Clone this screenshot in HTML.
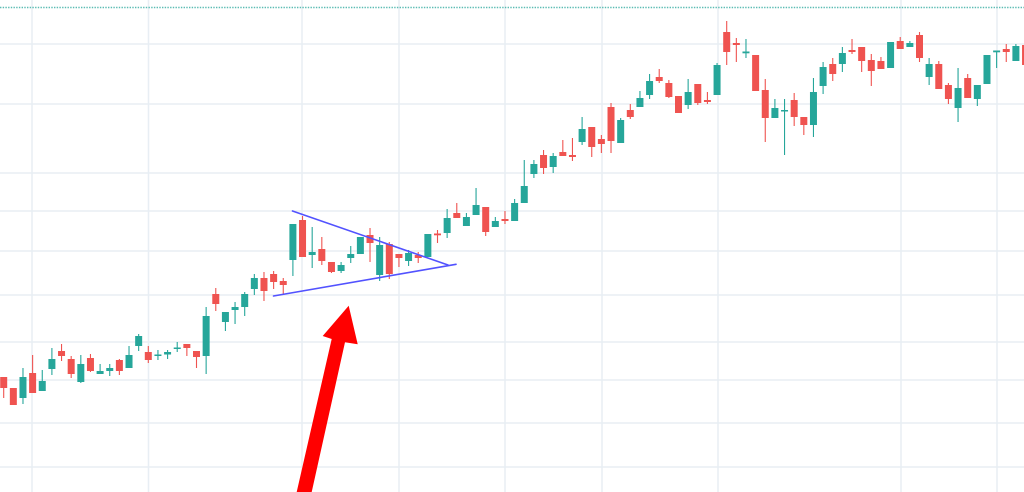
<!DOCTYPE html>
<html><head><meta charset="utf-8">
<style>
html,body{margin:0;padding:0;background:#fff;}
svg{display:block;}
.g path{stroke:#26a69a;stroke-width:1.1}
.g rect{fill:#26a69a}
.r path{stroke:#ef5350;stroke-width:1.1}
.r rect{fill:#ef5350}
</style></head>
<body>
<svg width="1024" height="492" viewBox="0 0 1024 492" xmlns="http://www.w3.org/2000/svg">
<rect width="1024" height="492" fill="#fff"/>
<g stroke="#e8eef4" stroke-width="1.5">
<line x1="0" y1="44" x2="1024" y2="44"/>
<line x1="0" y1="104" x2="1024" y2="104"/>
<line x1="0" y1="173" x2="1024" y2="173"/>
<line x1="0" y1="211" x2="1024" y2="211"/>
<line x1="0" y1="251" x2="1024" y2="251"/>
<line x1="0" y1="295" x2="1024" y2="295"/>
<line x1="0" y1="342" x2="1024" y2="342"/>
<line x1="0" y1="380" x2="1024" y2="380"/>
<line x1="0" y1="423" x2="1024" y2="423"/>
<line x1="0" y1="467" x2="1024" y2="467"/>
<line x1="32" y1="0" x2="32" y2="492"/>
<line x1="148.5" y1="0" x2="148.5" y2="492"/>
<line x1="302" y1="0" x2="302" y2="492"/>
<line x1="399" y1="0" x2="399" y2="492"/>
<line x1="505" y1="0" x2="505" y2="492"/>
<line x1="602" y1="0" x2="602" y2="492"/>
<line x1="718" y1="0" x2="718" y2="492"/>
<line x1="901" y1="0" x2="901" y2="492"/>
<line x1="997" y1="0" x2="997" y2="492"/>
</g>
<line x1="0" y1="7.5" x2="1024" y2="7.5" stroke="#26a69a" stroke-opacity="0.75" stroke-width="1.5" stroke-dasharray="1.4 1.3"/>

<g transform="translate(3.7 0)" class="r"><path d="M0 377V398"/><rect x="-3.5" y="377" width="7" height="11"/></g>
<g transform="translate(13.34 0)" class="r"><path d="M0 388V405"/><rect x="-3.5" y="388" width="7" height="17"/></g>
<g transform="translate(22.98 0)" class="g"><path d="M0 368V404"/><rect x="-3.5" y="377" width="7" height="21"/></g>
<g transform="translate(32.62 0)" class="r"><path d="M0 355V393"/><rect x="-3.5" y="373" width="7" height="20"/></g>
<g transform="translate(42.26 0)" class="g"><path d="M0 370V391"/><rect x="-3.5" y="381" width="7" height="10"/></g>
<g transform="translate(51.9 0)" class="g"><path d="M0 348V375"/><rect x="-3.5" y="359" width="7" height="10"/></g>
<g transform="translate(61.54 0)" class="r"><path d="M0 344V361"/><rect x="-3.5" y="351" width="7" height="5"/></g>
<g transform="translate(71.18 0)" class="r"><path d="M0 356V378"/><rect x="-3.5" y="359" width="7" height="15"/></g>
<g transform="translate(80.82 0)" class="g"><path d="M0 355V383"/><rect x="-3.5" y="364" width="7" height="18"/></g>
<g transform="translate(90.46 0)" class="r"><path d="M0 354V372"/><rect x="-3.5" y="358" width="7" height="13"/></g>
<g transform="translate(100.1 0)" class="g"><path d="M0 364V374"/><rect x="-3.5" y="371" width="7" height="3"/></g>
<g transform="translate(109.74 0)" class="g"><path d="M0 364V376"/><rect x="-3.5" y="368" width="7" height="3"/></g>
<g transform="translate(119.38 0)" class="r"><path d="M0 359V375"/><rect x="-3.5" y="360" width="7" height="11"/></g>
<g transform="translate(129.02 0)" class="g"><path d="M0 346V368"/><rect x="-3.5" y="355" width="7" height="13"/></g>
<g transform="translate(138.66 0)" class="g"><path d="M0 334V351"/><rect x="-3.5" y="336" width="7" height="10"/></g>
<g transform="translate(148.3 0)" class="r"><path d="M0 346V363"/><rect x="-3.5" y="352" width="7" height="8"/></g>
<g transform="translate(157.94 0)" class="g"><path d="M0 350V360"/><rect x="-3.5" y="354.5" width="7" height="1.5"/></g>
<g transform="translate(167.58 0)" class="g"><path d="M0 350V359"/><rect x="-3.5" y="352" width="7" height="2.5"/></g>
<g transform="translate(177.22 0)" class="g"><path d="M0 342V352"/><rect x="-3.5" y="347.5" width="7" height="1.5"/></g>
<g transform="translate(186.86 0)" class="r"><path d="M0 344V356"/><rect x="-3.5" y="344" width="7" height="4"/></g>
<g transform="translate(196.5 0)" class="r"><path d="M0 351V368"/><rect x="-3.5" y="351" width="7" height="6"/></g>
<g transform="translate(206.14 0)" class="g"><path d="M0 307V374"/><rect x="-3.5" y="316" width="7" height="40"/></g>
<g transform="translate(215.78 0)" class="r"><path d="M0 288V311"/><rect x="-3.5" y="294" width="7" height="10"/></g>
<g transform="translate(225.42 0)" class="g"><path d="M0 312V331"/><rect x="-3.5" y="312" width="7" height="10"/></g>
<g transform="translate(235.06 0)" class="g"><path d="M0 302V324"/><rect x="-3.5" y="307" width="7" height="3"/></g>
<g transform="translate(244.7 0)" class="g"><path d="M0 292V316"/><rect x="-3.5" y="294" width="7" height="13"/></g>
<g transform="translate(254.34 0)" class="g"><path d="M0 274V295"/><rect x="-3.5" y="278" width="7" height="11"/></g>
<g transform="translate(263.98 0)" class="r"><path d="M0 272V301"/><rect x="-3.5" y="278" width="7" height="13"/></g>
<g transform="translate(273.62 0)" class="r"><path d="M0 271V289"/><rect x="-3.5" y="274" width="7" height="8"/></g>
<g transform="translate(283.26 0)" class="r"><path d="M0 278V294"/><rect x="-3.5" y="281" width="7" height="4"/></g>
<g transform="translate(292.9 0)" class="g"><path d="M0 224V276"/><rect x="-3.5" y="224" width="7" height="36"/></g>
<g transform="translate(302.54 0)" class="r"><path d="M0 216V257"/><rect x="-3.5" y="220" width="7" height="37"/></g>
<g transform="translate(312.18 0)" class="g"><path d="M0 227V268"/><rect x="-3.5" y="252" width="7" height="3"/></g>
<g transform="translate(321.82 0)" class="r"><path d="M0 237V265"/><rect x="-3.5" y="249" width="7" height="12"/></g>
<g transform="translate(331.46 0)" class="r"><path d="M0 262V273"/><rect x="-3.5" y="262" width="7" height="10"/></g>
<g transform="translate(341.1 0)" class="g"><path d="M0 262V273"/><rect x="-3.5" y="265" width="7" height="6"/></g>
<g transform="translate(350.74 0)" class="g"><path d="M0 246V263"/><rect x="-3.5" y="254" width="7" height="4"/></g>
<g transform="translate(360.38 0)" class="g"><path d="M0 237V254"/><rect x="-3.5" y="237" width="7" height="17"/></g>
<g transform="translate(370.02 0)" class="r"><path d="M0 228V262"/><rect x="-3.5" y="235" width="7" height="8"/></g>
<g transform="translate(379.66 0)" class="g"><path d="M0 237V281"/><rect x="-3.5" y="245" width="7" height="30"/></g>
<g transform="translate(389.3 0)" class="r"><path d="M0 242V279"/><rect x="-3.5" y="244" width="7" height="30"/></g>
<g transform="translate(398.94 0)" class="r"><path d="M0 254V267"/><rect x="-3.5" y="254" width="7" height="4"/></g>
<g transform="translate(408.58 0)" class="g"><path d="M0 250V266"/><rect x="-3.5" y="253" width="7" height="8"/></g>
<g transform="translate(418.22 0)" class="r"><path d="M0 252V263"/><rect x="-3.5" y="255" width="7" height="3"/></g>
<g transform="translate(427.86 0)" class="g"><path d="M0 234V257"/><rect x="-3.5" y="234" width="7" height="23"/></g>
<g transform="translate(437.5 0)" class="r"><path d="M0 230V243"/><rect x="-3.5" y="233.5" width="7" height="1.8"/></g>
<g transform="translate(447.14 0)" class="g"><path d="M0 209V238"/><rect x="-3.5" y="218" width="7" height="15"/></g>
<g transform="translate(456.78 0)" class="r"><path d="M0 203V218"/><rect x="-3.5" y="213" width="7" height="5"/></g>
<g transform="translate(466.42 0)" class="g"><path d="M0 213V226"/><rect x="-3.5" y="217" width="7" height="9"/></g>
<g transform="translate(476.06 0)" class="g"><path d="M0 188V215"/><rect x="-3.5" y="205" width="7" height="10"/></g>
<g transform="translate(485.7 0)" class="r"><path d="M0 207V236"/><rect x="-3.5" y="207" width="7" height="25"/></g>
<g transform="translate(495.34 0)" class="g"><path d="M0 217V227"/><rect x="-3.5" y="221" width="7" height="6"/></g>
<g transform="translate(504.98 0)" class="r"><path d="M0 211V224"/><rect x="-3.5" y="219" width="7" height="2"/></g>
<g transform="translate(514.62 0)" class="g"><path d="M0 199V221"/><rect x="-3.5" y="203" width="7" height="18"/></g>
<g transform="translate(524.26 0)" class="g"><path d="M0 160V203"/><rect x="-3.5" y="186" width="7" height="17"/></g>
<g transform="translate(533.9 0)" class="g"><path d="M0 160V178"/><rect x="-3.5" y="164" width="7" height="10"/></g>
<g transform="translate(543.54 0)" class="r"><path d="M0 150V174"/><rect x="-3.5" y="155" width="7" height="13"/></g>
<g transform="translate(553.18 0)" class="g"><path d="M0 153V173"/><rect x="-3.5" y="156" width="7" height="11"/></g>
<g transform="translate(562.82 0)" class="r"><path d="M0 140V156"/><rect x="-3.5" y="152" width="7" height="4"/></g>
<g transform="translate(572.46 0)" class="r"><path d="M0 138V161"/><rect x="-3.5" y="155" width="7" height="2"/></g>
<g transform="translate(582.1 0)" class="g"><path d="M0 117V145"/><rect x="-3.5" y="129" width="7" height="13"/></g>
<g transform="translate(591.74 0)" class="r"><path d="M0 127V157"/><rect x="-3.5" y="127" width="7" height="20"/></g>
<g transform="translate(601.38 0)" class="r"><path d="M0 135V153"/><rect x="-3.5" y="139" width="7" height="5"/></g>
<g transform="translate(611.02 0)" class="r"><path d="M0 103V153"/><rect x="-3.5" y="107" width="7" height="34"/></g>
<g transform="translate(620.66 0)" class="g"><path d="M0 118V143"/><rect x="-3.5" y="120" width="7" height="23"/></g>
<g transform="translate(630.3 0)" class="r"><path d="M0 104V119"/><rect x="-3.5" y="110" width="7" height="7"/></g>
<g transform="translate(639.94 0)" class="g"><path d="M0 91V107"/><rect x="-3.5" y="98" width="7" height="9"/></g>
<g transform="translate(649.58 0)" class="g"><path d="M0 74V99"/><rect x="-3.5" y="81" width="7" height="14"/></g>
<g transform="translate(659.22 0)" class="r"><path d="M0 69V83"/><rect x="-3.5" y="77" width="7" height="4"/></g>
<g transform="translate(668.86 0)" class="r"><path d="M0 80V98"/><rect x="-3.5" y="83" width="7" height="14"/></g>
<g transform="translate(678.5 0)" class="r"><path d="M0 96V113"/><rect x="-3.5" y="96" width="7" height="17"/></g>
<g transform="translate(688.14 0)" class="g"><path d="M0 79V109"/><rect x="-3.5" y="92" width="7" height="13"/></g>
<g transform="translate(697.78 0)" class="r"><path d="M0 84V105"/><rect x="-3.5" y="84" width="7" height="19"/></g>
<g transform="translate(707.42 0)" class="r"><path d="M0 92V104"/><rect x="-3.5" y="100" width="7" height="2"/></g>
<g transform="translate(717.06 0)" class="g"><path d="M0 63V95"/><rect x="-3.5" y="65" width="7" height="30"/></g>
<g transform="translate(726.7 0)" class="r"><path d="M0 21V65"/><rect x="-3.5" y="32" width="7" height="20"/></g>
<g transform="translate(736.34 0)" class="r"><path d="M0 38V62"/><rect x="-3.5" y="43" width="7" height="2"/></g>
<g transform="translate(745.98 0)" class="g"><path d="M0 39V58"/><rect x="-3.5" y="51.5" width="7" height="1.8"/></g>
<g transform="translate(755.62 0)" class="r"><path d="M0 55V91"/><rect x="-3.5" y="55" width="7" height="36"/></g>
<g transform="translate(765.26 0)" class="r"><path d="M0 79V142"/><rect x="-3.5" y="90" width="7" height="28"/></g>
<g transform="translate(774.9 0)" class="g"><path d="M0 99V118"/><rect x="-3.5" y="108" width="7" height="10"/></g>
<g transform="translate(784.54 0)" class="g"><path d="M0 99V155"/><rect x="-3.5" y="110" width="7" height="1.5"/></g>
<g transform="translate(794.18 0)" class="r"><path d="M0 93V126"/><rect x="-3.5" y="100" width="7" height="17"/></g>
<g transform="translate(803.82 0)" class="r"><path d="M0 117V135"/><rect x="-3.5" y="117" width="7" height="8"/></g>
<g transform="translate(813.46 0)" class="g"><path d="M0 78V137"/><rect x="-3.5" y="92" width="7" height="33"/></g>
<g transform="translate(823.1 0)" class="g"><path d="M0 62V94"/><rect x="-3.5" y="67" width="7" height="19"/></g>
<g transform="translate(832.74 0)" class="r"><path d="M0 58V81"/><rect x="-3.5" y="64" width="7" height="10"/></g>
<g transform="translate(842.38 0)" class="g"><path d="M0 47V72"/><rect x="-3.5" y="53" width="7" height="11"/></g>
<g transform="translate(852.02 0)" class="r"><path d="M0 39V54"/><rect x="-3.5" y="50" width="7" height="2"/></g>
<g transform="translate(861.66 0)" class="r"><path d="M0 47V72"/><rect x="-3.5" y="47" width="7" height="14"/></g>
<g transform="translate(871.3 0)" class="r"><path d="M0 54V86"/><rect x="-3.5" y="60" width="7" height="11"/></g>
<g transform="translate(880.94 0)" class="r"><path d="M0 57V69"/><rect x="-3.5" y="61" width="7" height="8"/></g>
<g transform="translate(890.58 0)" class="g"><path d="M0 42V68"/><rect x="-3.5" y="42" width="7" height="26"/></g>
<g transform="translate(900.22 0)" class="r"><path d="M0 37V49"/><rect x="-3.5" y="41" width="7" height="8"/></g>
<g transform="translate(909.86 0)" class="g"><path d="M0 41V47"/><rect x="-3.5" y="43" width="7" height="4"/></g>
<g transform="translate(919.5 0)" class="r"><path d="M0 32V62"/><rect x="-3.5" y="35" width="7" height="23"/></g>
<g transform="translate(929.14 0)" class="g"><path d="M0 58V85"/><rect x="-3.5" y="64" width="7" height="13"/></g>
<g transform="translate(938.78 0)" class="r"><path d="M0 61V89"/><rect x="-3.5" y="64" width="7" height="25"/></g>
<g transform="translate(948.42 0)" class="r"><path d="M0 83V104"/><rect x="-3.5" y="85" width="7" height="14"/></g>
<g transform="translate(958.06 0)" class="g"><path d="M0 68V122"/><rect x="-3.5" y="88" width="7" height="20"/></g>
<g transform="translate(967.7 0)" class="r"><path d="M0 74V98"/><rect x="-3.5" y="78" width="7" height="20"/></g>
<g transform="translate(977.34 0)" class="g"><path d="M0 85V106"/><rect x="-3.5" y="85" width="7" height="14"/></g>
<g transform="translate(986.98 0)" class="g"><path d="M0 55V84"/><rect x="-3.5" y="55" width="7" height="29"/></g>
<g transform="translate(996.62 0)" class="g"><path d="M0 51V68"/><rect x="-3.5" y="50.5" width="7" height="1.8"/></g>
<g transform="translate(1006.26 0)" class="r"><path d="M0 44V62"/><rect x="-3.5" y="49" width="7" height="3"/></g>
<g transform="translate(1015.9 0)" class="g"><path d="M0 44V61"/><rect x="-3.5" y="46" width="7" height="15"/></g>
<g transform="translate(1025.54 0)" class="r"><path d="M0 45V65"/><rect x="-3.5" y="45" width="7" height="20"/></g>

<g stroke="#5252ff" stroke-width="1.6" stroke-linecap="round">
<line x1="292.5" y1="211" x2="448" y2="265"/>
<line x1="273.5" y1="296" x2="456" y2="264.3"/>
</g>

<polygon points="296.7,492 331.7,339 322.7,336 348.7,305.7 357.7,344.3 345,342.3 311.7,492" fill="#ff0000"/>
</svg>
</body></html>
